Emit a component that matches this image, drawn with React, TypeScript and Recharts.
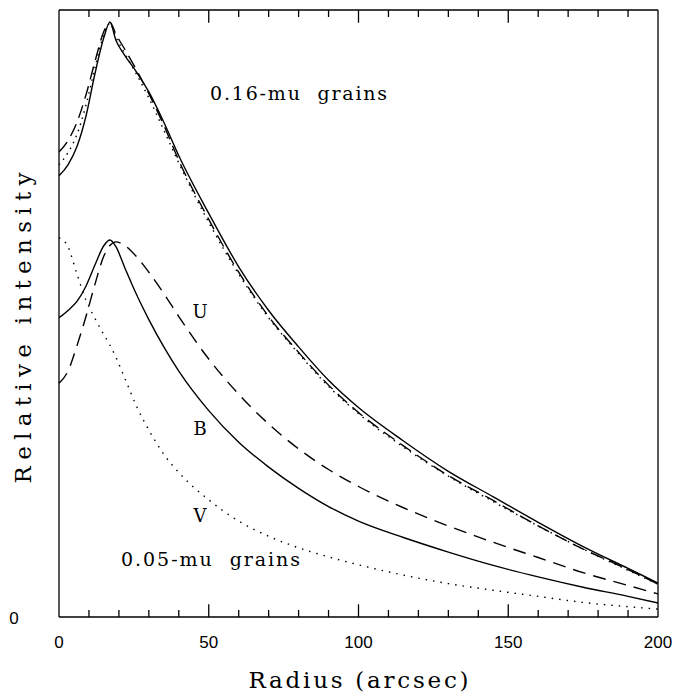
import { LineChart, Line, XAxis, YAxis, ReferenceDot, ReferenceLine, Label } from 'recharts';

// radius grid (arcsec) shared by every profile
const RADIUS = [0, 3, 6, 9, 12, 15, 17, 19, 22, 26, 30, 35, 40, 50, 60, 70, 80, 90, 100, 115, 130, 145, 160, 175, 190, 200];

// 0.16-mu grains: U (dashed), B (solid), V (dotted) nearly overlap
const bigSolid = [0.727, 0.745, 0.775, 0.825, 0.895, 0.955, 0.98, 0.95, 0.925, 0.897, 0.865, 0.815, 0.76, 0.665, 0.577, 0.505, 0.445, 0.39, 0.345, 0.29, 0.24, 0.198, 0.156, 0.116, 0.08, 0.056];
const bigDashed = [0.766, 0.785, 0.815, 0.86, 0.915, 0.965, 0.98, 0.96, 0.935, 0.9, 0.862, 0.81, 0.752, 0.655, 0.568, 0.495, 0.436, 0.382, 0.337, 0.282, 0.233, 0.192, 0.15, 0.112, 0.078, 0.054];
const bigDotted = [0.745, 0.765, 0.795, 0.843, 0.905, 0.96, 0.978, 0.955, 0.928, 0.893, 0.855, 0.802, 0.748, 0.65, 0.565, 0.493, 0.434, 0.38, 0.335, 0.28, 0.232, 0.19, 0.15, 0.112, 0.077, 0.054];

// 0.05-mu grains
const smallSolid = [0.493, 0.505, 0.52, 0.545, 0.58, 0.612, 0.621, 0.61, 0.575, 0.53, 0.49, 0.445, 0.405, 0.34, 0.288, 0.247, 0.212, 0.182, 0.158, 0.131, 0.107, 0.085, 0.066, 0.049, 0.034, 0.023];
const smallDashed = [0.385, 0.405, 0.447, 0.495, 0.548, 0.595, 0.612, 0.618, 0.612, 0.593, 0.568, 0.533, 0.495, 0.425, 0.367, 0.318, 0.277, 0.243, 0.215, 0.18, 0.15, 0.123, 0.098, 0.073, 0.052, 0.038];
const smallDotted = [0.625, 0.61, 0.565, 0.522, 0.492, 0.465, 0.448, 0.428, 0.393, 0.346, 0.308, 0.268, 0.238, 0.193, 0.158, 0.133, 0.114, 0.099, 0.086, 0.069, 0.055, 0.044, 0.034, 0.024, 0.017, 0.013];

const X_TICKS = [0, 10, 20, 30, 40, 50, 60, 70, 80, 90, 100, 110, 120, 130, 140, 150, 160, 170, 180, 190, 200];

const data = RADIUS.map((r, i) => ({
  r,
  bigSolid: bigSolid[i],
  bigDashed: bigDashed[i],
  bigDotted: bigDotted[i],
  smallSolid: smallSolid[i],
  smallDashed: smallDashed[i],
  smallDotted: smallDotted[i],
}));

const SERIF = '"DejaVu Serif", serif';
const SANS = '"Liberation Sans", Arial, sans-serif';

// tick mark lengths in y units (plot height ~607px)
const MINOR_LEN = 0.0115;
const MAJOR_LEN = 0.021;

function BottomTick(props: any) {
  const { x, y, payload } = props;
  if (payload.value % 50 !== 0) return <g />;
  return (
    <text x={x} y={y + 31} textAnchor="middle" fontFamily={SANS} fontSize={17} fill="#000">
      {payload.value}
    </text>
  );
}

function LeftTick(props: any) {
  const { x, y, payload } = props;
  return (
    <text x={x - 45} y={y + 7} textAnchor="middle" fontFamily={SANS} fontSize={17} fill="#000">
      {payload.value}
    </text>
  );
}

// annotation text drawn at a data position
const note = (text: string, size: number, width?: number) => (p: any) => (
  <text
    x={p.cx}
    y={p.cy + size * 0.36}
    textAnchor="middle"
    fontFamily={SERIF}
    fontSize={size}
    fill="#000"
    textLength={width}
    lengthAdjust={width ? 'spacing' : undefined}
    style={{ whiteSpace: 'pre' }}
  >
    {text}
  </text>
);

export default function App() {
  const stroke = { stroke: '#000', strokeWidth: 1.4, dot: false, isAnimationActive: false, type: 'monotone' as const };
  return (
    <div style={{ position: 'absolute', left: 0, top: 0 }}>
      <LineChart width={686} height={693} data={data} margin={{ top: 9, right: 27, bottom: 75, left: 58 }}>
        <XAxis
          dataKey="r"
          type="number"
          domain={[0, 200]}
          ticks={X_TICKS}
          height={1}
          tickSize={0}
          tickMargin={0}
          tickLine={false}
          tick={BottomTick}
          interval={0}
          axisLine={{ stroke: '#000', strokeWidth: 1.3 }}
        >
          <Label
            content={(p: any) => {
              const vb = p.viewBox || { x: 59, y: 617, width: 599 };
              return (
                <text
                  x={vb.x + vb.width / 2}
                  y={688}
                  textAnchor="middle"
                  fontFamily={SERIF}
                  fontSize={23}
                  textLength={220}
                  lengthAdjust="spacing"
                  fill="#000"
                >
                  Radius (arcsec)
                </text>
              );
            }}
          />
        </XAxis>
        <XAxis
          xAxisId="top"
          orientation="top"
          dataKey="r"
          type="number"
          domain={[0, 200]}
          height={1}
          tick={false}
          tickLine={false}
          axisLine={{ stroke: '#000', strokeWidth: 1.3 }}
        />
        <YAxis
          domain={[0, 1]}
          ticks={[0]}
          width={1}
          tickSize={0}
          tickMargin={0}
          tickLine={false}
          tick={LeftTick}
          axisLine={{ stroke: '#000', strokeWidth: 1.3 }}
        >
          <Label
            content={() => (
              <text
                x={31}
                y={328}
                transform="rotate(-90, 31, 328)"
                textAnchor="middle"
                fontFamily={SERIF}
                fontSize={23}
                textLength={311}
                lengthAdjust="spacing"
                fill="#000"
              >
                Relative intensity
              </text>
            )}
          />
        </YAxis>
        <YAxis
          yAxisId="right"
          orientation="right"
          domain={[0, 1]}
          width={1}
          tick={false}
          tickLine={false}
          axisLine={{ stroke: '#000', strokeWidth: 1.3 }}
        />

        {X_TICKS.filter((t) => t > 0 && t < 200).map((t) => {
          const len = t % 50 === 0 ? MAJOR_LEN : MINOR_LEN;
          return [
            <ReferenceLine
              key={`b${t}`}
              segment={[{ x: t, y: 0 }, { x: t, y: len }]}
              stroke="#000"
              strokeWidth={1.3}
              ifOverflow="visible"
            />,
            <ReferenceLine
              key={`t${t}`}
              segment={[{ x: t, y: 1 }, { x: t, y: 1 - len }]}
              stroke="#000"
              strokeWidth={1.3}
              ifOverflow="visible"
            />,
          ];
        })}

        <Line dataKey="bigDotted" {...stroke} strokeDasharray="1.5 5" />
        <Line dataKey="bigDashed" {...stroke} strokeDasharray="13 7" />
        <Line dataKey="bigSolid" {...stroke} />
        <Line dataKey="smallDotted" {...stroke} strokeDasharray="1.5 6" />
        <Line dataKey="smallDashed" {...stroke} strokeDasharray="13 8" />
        <Line dataKey="smallSolid" {...stroke} />

        <ReferenceDot x={80} y={0.863} r={0} shape={note('0.16-mu  grains', 19, 177)} />
        <ReferenceDot x={50.6} y={0.095} r={0} shape={note('0.05-mu  grains', 19, 179)} />
        <ReferenceDot x={47.1} y={0.503} r={0} shape={note('U', 18)} />
        <ReferenceDot x={47.1} y={0.311} r={0} shape={note('B', 18)} />
        <ReferenceDot x={47.1} y={0.168} r={0} shape={note('V', 18)} />
      </LineChart>
    </div>
  );
}
